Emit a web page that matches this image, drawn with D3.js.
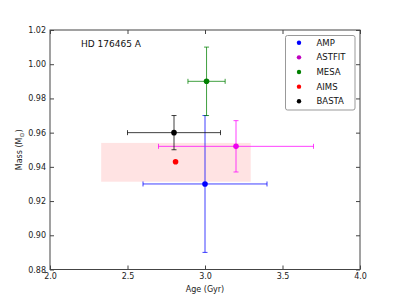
<!DOCTYPE html>
<html>
<head>
<meta charset="utf-8">
<script src="https://cdn.jsdelivr.net/npm/d3@7"></script>
<style>
body{margin:0;background:#fff;}
svg{display:block;font-family:"DejaVu Sans",sans-serif;}
</style>
</head>
<body>
<svg id="chart" width="400" height="300"></svg>
<script>
const names  = ["AMP","ASTFIT","MESA","AIMS","BASTA"];
const colors = ["#0000ff","#bf00bf","#008000","#ff0000","#000000"];
const barColors = ["#0000ff","#ff00ff","#008000","#ff0000","#000000"];
const ages   = [3.0, 3.2, 3.01, 2.81, 2.8];
const ageLo  = [2.6, 2.7, 2.89, null, 2.5];
const ageHi  = [3.4, 3.7, 3.13, null, 3.1];
const masses = [0.930, 0.952, 0.990, 0.943, 0.960];
const massLo = [0.890, 0.937, 0.970, null, 0.950];
const massHi = [0.970, 0.967, 1.010, null, 0.970];
const boxAge = [2.33, 3.295];
const boxMass = [0.9313, 0.954];
const xTicks = [2.0, 2.5, 3.0, 3.5, 4.0];
const yTicks = [0.88, 0.90, 0.92, 0.94, 0.96, 0.98, 1.00, 1.02];
const title = "HD 176465 A";

(function(){
const svg = d3.select("#chart");
const L=50, R=360, T=30, B=269.5;
const x = d3.scaleLinear().domain([2,4]).range([L,R]);
const y = d3.scaleLinear().domain([0.88,1.02]).range([B,T]);

// shaded box
svg.append("rect")
  .attr("x", x(boxAge[0])).attr("y", y(boxMass[1]))
  .attr("width", x(boxAge[1])-x(boxAge[0])).attr("height", y(boxMass[0])-y(boxMass[1]))
  .attr("fill", "#ff0000").attr("fill-opacity", 0.11);

// error bars
const cap = 2.5;
const lineOp = 0.75;
names.forEach((n,i)=>{
  const g = svg.append("g").attr("stroke", barColors[i]).attr("stroke-width",1).attr("stroke-opacity", lineOp);
  if (ageLo[i]!==null){
    g.append("line").attr("x1",x(ageLo[i])).attr("x2",x(ageHi[i])).attr("y1",y(masses[i])).attr("y2",y(masses[i]));
    [ageLo[i],ageHi[i]].forEach(v=>g.append("line").attr("x1",x(v)).attr("x2",x(v)).attr("y1",y(masses[i])-cap).attr("y2",y(masses[i])+cap));
  }
  if (massLo[i]!==null){
    g.append("line").attr("x1",x(ages[i])).attr("x2",x(ages[i])).attr("y1",y(massLo[i])).attr("y2",y(massHi[i]));
    [massLo[i],massHi[i]].forEach(v=>g.append("line").attr("y1",y(v)).attr("y2",y(v)).attr("x1",x(ages[i])-cap).attr("x2",x(ages[i])+cap));
  }
});
names.forEach((n,i)=>{
  svg.append("circle").attr("cx",x(ages[i])).attr("cy",y(masses[i])).attr("r",2.8)
    .attr("fill", i===1 ? "#ee00ee" : colors[i]);
});

// axes frame
const axisColor="#444";
svg.append("rect").attr("x",L).attr("y",T).attr("width",R-L).attr("height",B-T)
  .attr("fill","none").attr("stroke",axisColor).attr("stroke-width",1);

const fs = 8;
const axB = svg.append("g").attr("transform",`translate(0,${B})`)
  .call(d3.axisBottom(x).tickValues(xTicks).tickFormat(d3.format(".1f")).tickSizeInner(-4).tickSizeOuter(0).tickPadding(4));
const axT = svg.append("g").attr("transform",`translate(0,${T})`)
  .call(d3.axisTop(x).tickValues(xTicks).tickFormat("").tickSizeInner(-4).tickSizeOuter(0));
const axL = svg.append("g").attr("transform",`translate(${L},0)`)
  .call(d3.axisLeft(y).tickValues(yTicks).tickFormat(d3.format(".2f")).tickSizeInner(-4).tickSizeOuter(0).tickPadding(4));
const axR = svg.append("g").attr("transform",`translate(${R},0)`)
  .call(d3.axisRight(y).tickValues(yTicks).tickFormat("").tickSizeInner(-4).tickSizeOuter(0));
[axB,axT,axL,axR].forEach(a=>{
  a.select(".domain").remove();
  a.selectAll(".tick line").attr("stroke",axisColor);
  a.selectAll("text").attr("font-size",fs).attr("fill","#222").attr("font-family","DejaVu Sans");
});

// axis labels
svg.append("text").attr("x",(L+R)/2).attr("y",292).attr("text-anchor","middle")
  .attr("font-size",8).attr("fill","#222").text("Age (Gyr)");
const yl = svg.append("text").attr("transform",`translate(22,${(T+B)/2}) rotate(-90)`)
  .attr("text-anchor","middle").attr("font-size",8).attr("fill","#222");
yl.append("tspan").text("Mass (M");
yl.append("tspan").attr("font-size",6).attr("dy",2).text("\u2299");
yl.append("tspan").attr("dy",-2).text(")");

// title annotation
svg.append("text").attr("x",81).attr("y",47).attr("font-size",9).attr("fill","#111").text(title);

// legend
const lg = svg.append("g");
lg.append("rect").attr("x",285.5).attr("y",35.5).attr("width",69.5).attr("height",74.5)
  .attr("rx",2).attr("fill","#fff").attr("stroke","#999").attr("stroke-width",1);
names.forEach((n,i)=>{
  const yy = 42.7 + i*14.65;
  lg.append("circle").attr("cx",299).attr("cy",yy).attr("r",2.2).attr("fill",colors[i]);
  lg.append("text").attr("x",316.5).attr("y",yy).attr("dy","0.35em").attr("font-size",8.5).attr("fill","#111").text(n);
});
})();
</script>
</body>
</html>
